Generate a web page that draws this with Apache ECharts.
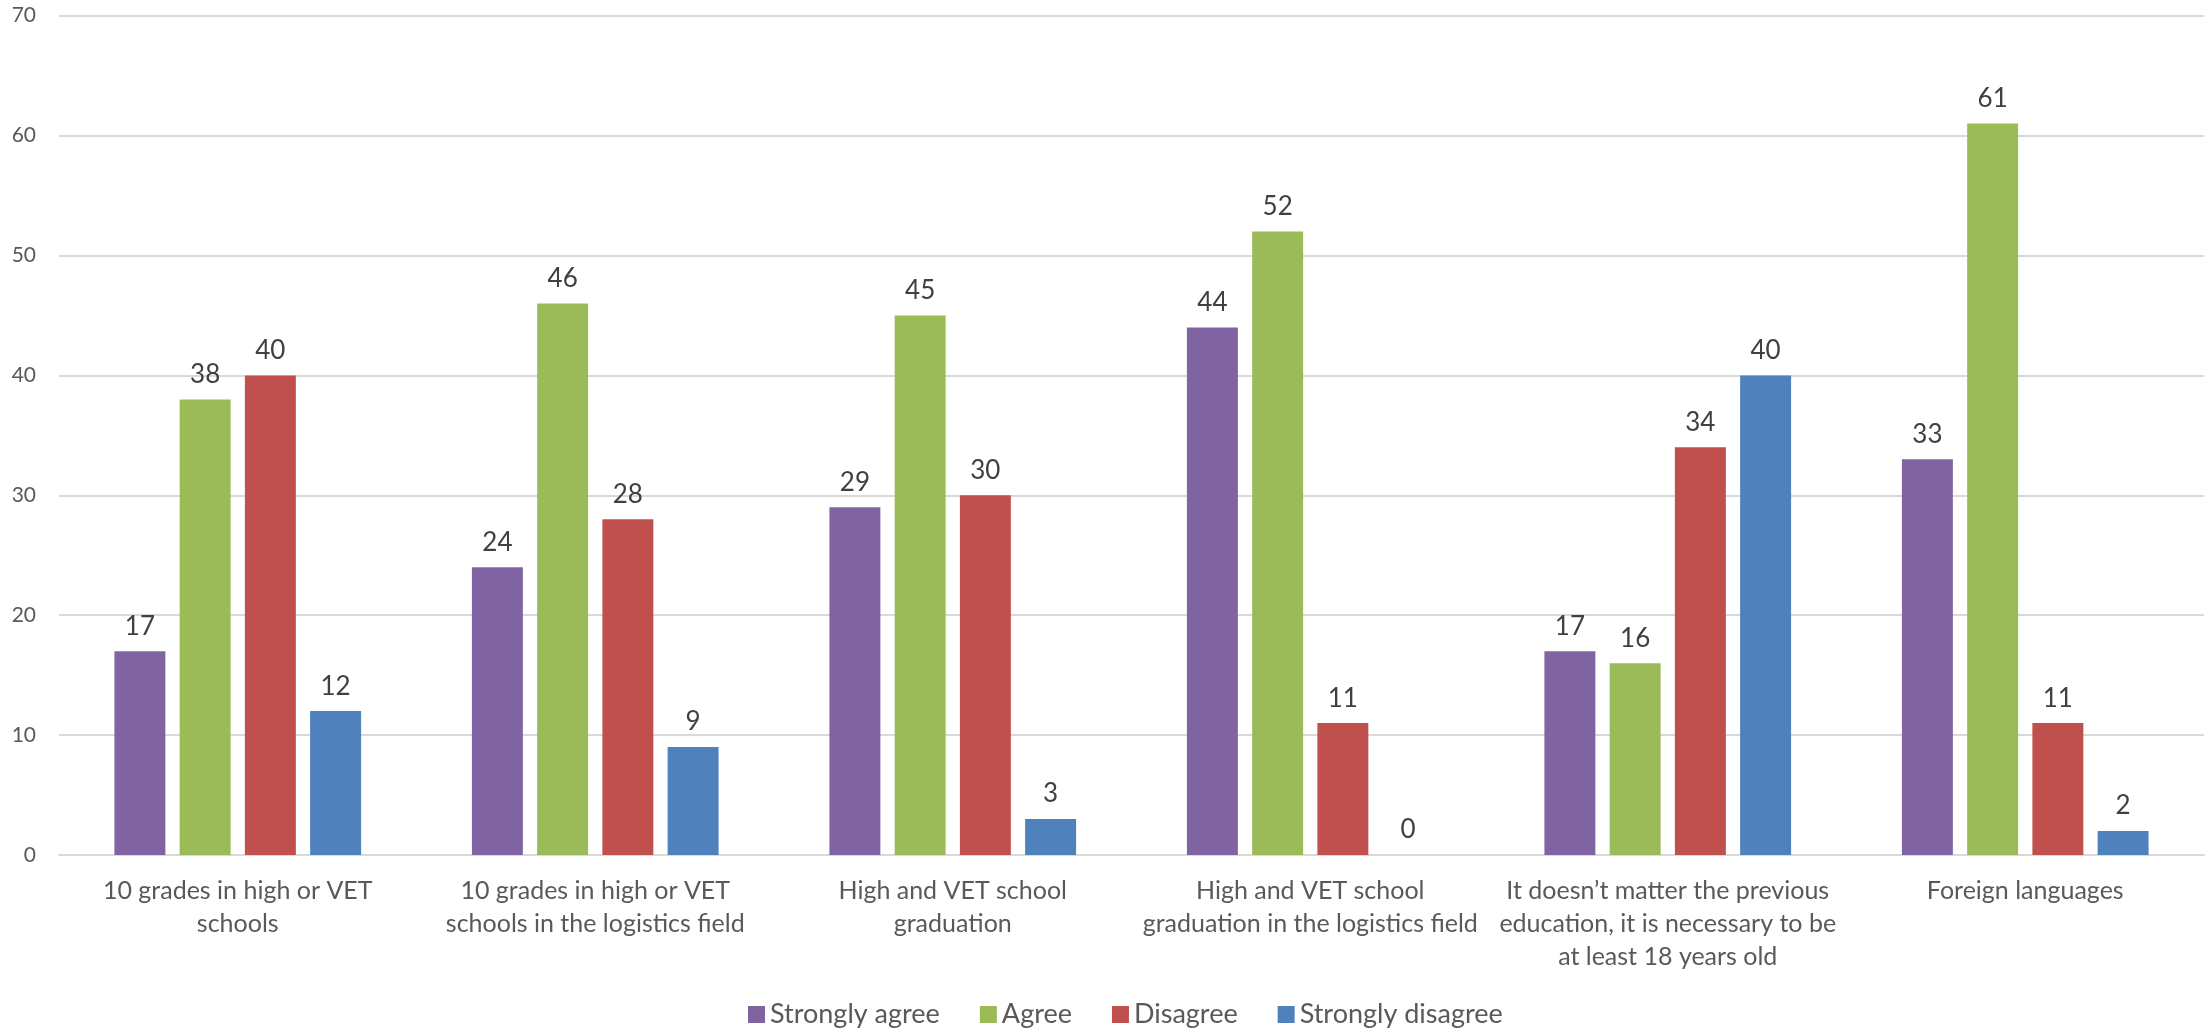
<!DOCTYPE html>
<html>
<head>
<meta charset="utf-8">
<script src="https://cdn.jsdelivr.net/npm/echarts@6/dist/echarts.min.js"></script>
<style>
html,body{margin:0;padding:0;background:#fff;}
#chart{width:2208px;height:1035px;}
</style>
</head>
<body>
<div id="chart"></div>
<script>
const categories = [
  "10 grades in high or VET\nschools",
  "10 grades in high or VET\nschools in the logistics field",
  "High and VET school\ngraduation",
  "High and VET school\ngraduation in the logistics field",
  "It doesn\u2019t matter the previous\neducation, it is necessary to be\nat least 18 years old",
  "Foreign languages"
];
const seriesNames = ["Strongly agree", "Agree", "Disagree", "Strongly disagree"];
const stronglyAgree = [17, 24, 29, 44, 17, 33];
const agree = [38, 46, 45, 52, 16, 61];
const disagree = [40, 28, 30, 11, 34, 11];
const stronglyDisagree = [12, 9, 3, 0, 40, 2];
const yTicks = [0, 10, 20, 30, 40, 50, 60, 70];

const colors = ["#8064A2", "#9BBB59", "#C0504D", "#4F81BD"];
const FONT = "Lato";
const dataSets = [stronglyAgree, agree, disagree, stronglyDisagree];

const chart = echarts.init(document.getElementById('chart'), null, {renderer: 'canvas'});
chart.setOption({
  animation: false,
  backgroundColor: '#ffffff',
  textStyle: {fontFamily: FONT},
  grid: {left: 59, right: 4, top: 15.7, bottom: 180, containLabel: false},
  legend: {
    data: seriesNames,
    bottom: 2,
    left: 743,
    itemWidth: 17,
    itemHeight: 17,
    itemGap: 40,
    icon: 'rect',
    textStyle: {fontFamily: FONT, fontSize: 27, color: '#595959'}
  },
  xAxis: {
    type: 'category',
    data: categories,
    axisLine: {lineStyle: {color: '#D9D9D9', width: 2}},
    axisTick: {show: false},
    axisLabel: {
      interval: 0,
      margin: 19,
      fontFamily: FONT,
      fontSize: 25,
      lineHeight: 33,
      color: '#595959',
      align: 'center'
    }
  },
  yAxis: {
    type: 'value',
    min: yTicks[0],
    max: yTicks[yTicks.length - 1],
    interval: 10,
    axisLine: {show: false},
    axisTick: {show: false},
    splitLine: {lineStyle: {color: '#D9D9D9', width: 2}},
    axisLabel: {
      fontFamily: FONT,
      fontSize: 21,
      color: '#595959',
      margin: 23
    }
  },
  series: dataSets.map((d, i) => ({
    name: seriesNames[i],
    type: 'bar',
    data: d,
    barGap: '28%',
    barCategoryGap: '31%',
    itemStyle: {color: colors[i]},
    label: {
      show: true,
      position: 'top',
      distance: 12,
      fontFamily: FONT,
      fontSize: 26,
      color: '#404040'
    }
  }))
});
</script>
</body>
</html>
